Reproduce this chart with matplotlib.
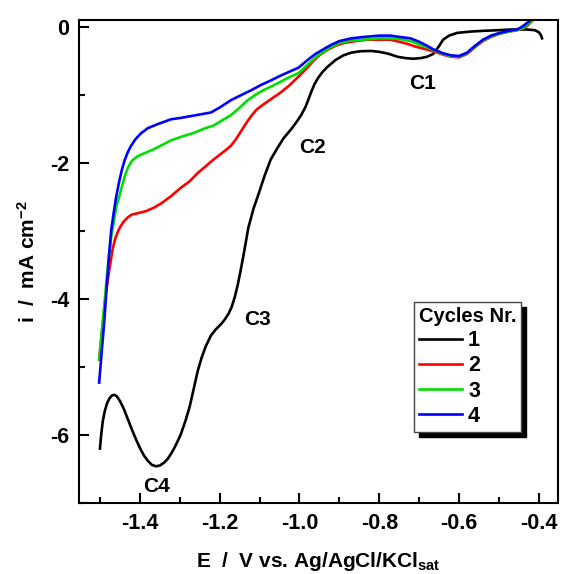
import matplotlib
matplotlib.use("Agg")
import matplotlib.pyplot as plt
from matplotlib.ticker import MultipleLocator

plt.rcParams["font.family"] = ["Liberation Sans", "DejaVu Sans"]
plt.rcParams["font.weight"] = "bold"
plt.rcParams["axes.labelweight"] = "bold"
plt.rcParams["axes.unicode_minus"] = False
plt.rcParams["mathtext.fontset"] = "custom"
plt.rcParams["mathtext.bf"] = "Liberation Sans:bold"
plt.rcParams["mathtext.rm"] = "Liberation Sans:bold"
plt.rcParams["mathtext.default"] = "bf"

# cycle 1
e1 = [-1.500, -1.497, -1.493, -1.488, -1.482, -1.476, -1.470, -1.464, -1.458, -1.450,
      -1.440, -1.430, -1.420, -1.410, -1.400, -1.390, -1.380, -1.370, -1.360, -1.350,
      -1.340, -1.330, -1.320, -1.310, -1.298, -1.285, -1.275, -1.265, -1.255, -1.245,
      -1.235, -1.222, -1.210, -1.198, -1.188, -1.178, -1.170, -1.162, -1.155, -1.148,
      -1.140, -1.128, -1.115, -1.102, -1.088, -1.072, -1.055, -1.040, -1.020, -1.005,
      -0.995, -0.985, -0.977, -0.970, -0.962, -0.953, -0.943, -0.930, -0.910, -0.890,
      -0.870, -0.848, -0.820, -0.798, -0.775, -0.755, -0.735, -0.715, -0.695, -0.680,
      -0.665, -0.652, -0.640, -0.625, -0.605, -0.570, -0.540, -0.500, -0.470, -0.430,
      -0.410, -0.400, -0.395, -0.392]
i1 = [-6.20, -6.00, -5.80, -5.65, -5.53, -5.46, -5.42, -5.41, -5.43, -5.50,
      -5.62, -5.77, -5.92, -6.06, -6.19, -6.30, -6.38, -6.44, -6.46, -6.45,
      -6.41, -6.35, -6.26, -6.15, -6.00, -5.78, -5.58, -5.32, -5.06, -4.86,
      -4.70, -4.54, -4.45, -4.38, -4.31, -4.22, -4.12, -3.97, -3.80, -3.60,
      -3.35, -2.95, -2.67, -2.45, -2.20, -1.95, -1.78, -1.64, -1.50, -1.38,
      -1.29, -1.18, -1.06, -0.95, -0.84, -0.75, -0.67, -0.59, -0.49, -0.42,
      -0.38, -0.36, -0.355, -0.37, -0.40, -0.44, -0.46, -0.47, -0.46, -0.44,
      -0.40, -0.30, -0.19, -0.13, -0.09, -0.07, -0.06, -0.05, -0.04, -0.04,
      -0.05, -0.08, -0.12, -0.17]

# cycle 2
e2 = [-1.502, -1.496, -1.490, -1.485, -1.476, -1.468, -1.462, -1.455, -1.448, -1.440,
      -1.430, -1.420, -1.405, -1.385, -1.365, -1.345, -1.322, -1.298, -1.275, -1.255,
      -1.235, -1.215, -1.195, -1.182, -1.172, -1.160, -1.148, -1.135, -1.122, -1.108,
      -1.090, -1.068, -1.048, -1.025, -1.002, -0.980, -0.965, -0.948, -0.930, -0.910,
      -0.890, -0.860, -0.830, -0.800, -0.772, -0.750, -0.730, -0.710, -0.690, -0.665,
      -0.640, -0.620, -0.600, -0.580, -0.560, -0.540, -0.520, -0.498, -0.475, -0.455,
      -0.440, -0.428, -0.418, -0.410]
i2 = [-4.89, -4.55, -4.20, -3.90, -3.55, -3.26, -3.12, -3.01, -2.93, -2.86,
      -2.80, -2.76, -2.74, -2.71, -2.66, -2.59, -2.49, -2.37, -2.27, -2.15,
      -2.05, -1.95, -1.86, -1.80, -1.75, -1.66, -1.55, -1.43, -1.32, -1.22,
      -1.14, -1.05, -0.97, -0.86, -0.73, -0.60, -0.50, -0.41, -0.34, -0.28,
      -0.24, -0.21, -0.19, -0.19, -0.19, -0.22, -0.25, -0.29, -0.32, -0.36,
      -0.41, -0.44, -0.45, -0.40, -0.30, -0.21, -0.15, -0.10, -0.07, -0.05,
      -0.03, 0.02, 0.08, 0.12]

# cycle 3
e3 = [-1.502, -1.496, -1.490, -1.484, -1.478, -1.472, -1.465, -1.458, -1.452, -1.445,
      -1.438, -1.430, -1.420, -1.405, -1.385, -1.365, -1.345, -1.322, -1.298, -1.265,
      -1.240, -1.215, -1.195, -1.172, -1.150, -1.130, -1.110, -1.090, -1.068, -1.048,
      -1.025, -1.002, -0.980, -0.960, -0.940, -0.922, -0.900, -0.870, -0.840, -0.800,
      -0.772, -0.748, -0.722, -0.700, -0.680, -0.665, -0.640, -0.620, -0.600, -0.580,
      -0.560, -0.540, -0.520, -0.498, -0.475, -0.455, -0.440, -0.430, -0.420, -0.412]
i3 = [-4.89, -4.50, -4.15, -3.75, -3.40, -3.10, -2.85, -2.62, -2.50, -2.35,
      -2.20, -2.07, -1.97, -1.90, -1.85, -1.80, -1.74, -1.67, -1.62, -1.56,
      -1.50, -1.45, -1.38, -1.30, -1.19, -1.08, -1.00, -0.93, -0.87, -0.81,
      -0.74, -0.68, -0.56, -0.45, -0.37, -0.30, -0.24, -0.20, -0.19, -0.17,
      -0.17, -0.18, -0.21, -0.26, -0.30, -0.34, -0.40, -0.43, -0.44, -0.39,
      -0.29, -0.20, -0.14, -0.10, -0.07, -0.05, -0.02, 0.03, 0.08, 0.12]

# cycle 4
e4 = [-1.502, -1.496, -1.490, -1.484, -1.478, -1.472, -1.466, -1.460, -1.452, -1.445,
      -1.438, -1.430, -1.422, -1.412, -1.398, -1.380, -1.355, -1.322, -1.298, -1.260,
      -1.222, -1.198, -1.172, -1.148, -1.120, -1.098, -1.072, -1.048, -1.025, -1.002,
      -0.980, -0.960, -0.940, -0.922, -0.900, -0.870, -0.840, -0.800, -0.772, -0.748,
      -0.722, -0.700, -0.680, -0.665, -0.640, -0.620, -0.600, -0.580, -0.560, -0.540,
      -0.520, -0.498, -0.475, -0.455, -0.445, -0.435, -0.425, -0.418]
i4 = [-5.23, -4.80, -4.39, -3.90, -3.41, -3.00, -2.75, -2.52, -2.28, -2.10,
      -1.96, -1.84, -1.75, -1.66, -1.57, -1.49, -1.43, -1.36, -1.34, -1.30,
      -1.26, -1.18, -1.08, -1.01, -0.93, -0.86, -0.79, -0.72, -0.66, -0.60,
      -0.49, -0.40, -0.33, -0.27, -0.21, -0.17, -0.15, -0.13, -0.13, -0.15,
      -0.17, -0.22, -0.28, -0.33, -0.39, -0.42, -0.43, -0.38, -0.28, -0.19,
      -0.13, -0.09, -0.06, -0.04, -0.01, 0.03, 0.08, 0.12]

cycles = ["1", "2", "3", "4"]
colors = ["black", "#ff0000", "#00e000", "#0000ff"]
peaks = ["C1", "C2", "C3", "C4"]
peak_e = [-0.6925, -0.9675, -1.105, -1.3575]
peak_i = [-0.84, -1.78, -4.30, -6.76]

fig = plt.figure(figsize=(5.62, 5.74), dpi=100)
ax = fig.add_axes([0.1406, 0.1237, 0.8523, 0.8415])

for e, i, c, lab in zip([e1, e2, e3, e4], [i1, i2, i3, i4], colors, cycles):
    ax.plot(e, i, color=c, lw=1.9, label=lab, solid_joinstyle="round")

for lab, x, y in zip(peaks, peak_e, peak_i):
    ax.text(x, y, lab, fontsize=15, fontweight="bold", ha="center", va="center")

ax.set_xlim(-1.5525, -0.352)
ax.set_ylim(-7.0, 0.1)
ax.xaxis.set_minor_locator(MultipleLocator(0.1))
ax.yaxis.set_minor_locator(MultipleLocator(1))
ax.set_xticks([-1.4, -1.2, -1.0, -0.8, -0.6, -0.4])
ax.set_xticklabels(["-1.4", "-1.2", "-1.0", "-0.8", "-0.6", "-0.4"])
ax.set_yticks([0, -2, -4, -6])
ax.set_yticklabels(["0", "-2", "-4", "-6"])
ax.tick_params(which="major", direction="in", length=7, width=1.5, labelsize=15.5, pad=7)
ax.tick_params(which="minor", direction="in", length=4, width=1.5)
for s in ax.spines.values():
    s.set_linewidth(1.5)

ax.set_xlabel(r"E  /  V vs. Ag/AgCl/KCl$_{\mathrm{sat}}$", fontsize=15, fontweight="bold", labelpad=12)
ax.set_ylabel(r"i  /  mA cm$^{-2}$", fontsize=15, fontweight="bold", labelpad=8)

leg = ax.legend(title="Cycles Nr.", loc="upper left", bbox_to_anchor=(0.699, 0.416),
                borderaxespad=0, fontsize=15.5, title_fontproperties={"weight": "bold", "size": 14.5},
                handlelength=2.0, handletextpad=0.3, labelspacing=0.2, borderpad=0.22,
                fancybox=False, edgecolor="#444444", framealpha=1,
                shadow={"color": "black", "alpha": 1, "ox": 3.5, "oy": -3.5},
                alignment="left")
leg.get_frame().set_linewidth(1.0)

fig.savefig("out.png", dpi=100)
